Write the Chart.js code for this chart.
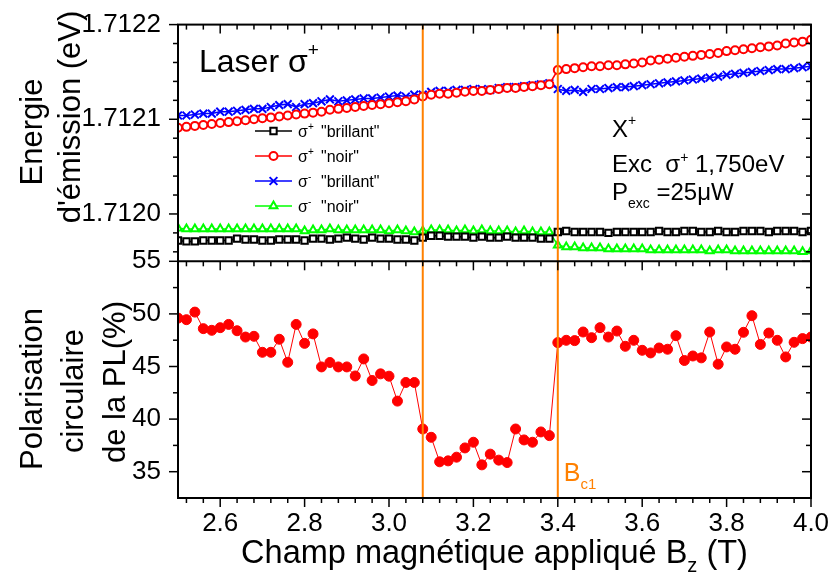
<!DOCTYPE html>
<html lang="fr">
<head>
<meta charset="utf-8">
<title>Energie d'émission et polarisation circulaire</title>
<script src="https://cdn.jsdelivr.net/npm/chart.js@4.4.1/dist/chart.umd.min.js"></script>
<style>
  html, body { margin: 0; padding: 0; background: #fff; }
  #graphique { display: block; }
</style>
</head>
<body>
<canvas id="graphique" width="828" height="579"></canvas>
<script>
const police = '"Liberation Sans", Arial, sans-serif';
const orange = "#FF8000";
Chart.defaults.font.family = police;
Chart.defaults.color = "#000";

// === DONNÉES ===
// Champ magnétique (T)
const champ = [
  2.50, 2.52, 2.54, 2.56, 2.58, 2.60, 2.62, 2.64, 2.66, 2.68,
  2.70, 2.72, 2.74, 2.76, 2.78, 2.80, 2.82, 2.84, 2.86, 2.88,
  2.90, 2.92, 2.94, 2.96, 2.98, 3.00, 3.02, 3.04, 3.06, 3.08,
  3.10, 3.12, 3.14, 3.16, 3.18, 3.20, 3.22, 3.24, 3.26, 3.28,
  3.30, 3.32, 3.34, 3.36, 3.38, 3.40, 3.42, 3.44, 3.46, 3.48,
  3.50, 3.52, 3.54, 3.56, 3.58, 3.60, 3.62, 3.64, 3.66, 3.68,
  3.70, 3.72, 3.74, 3.76, 3.78, 3.80, 3.82, 3.84, 3.86, 3.88,
  3.90, 3.92, 3.94, 3.96, 3.98, 4.00
];

// Energie d'émission (eV)
const plusBrillant = [
  1.711972, 1.711971, 1.711971, 1.711972, 1.711972, 1.711972, 1.711972, 1.711974, 1.711973, 1.711973,
  1.711972, 1.711972, 1.711973, 1.711973, 1.711973, 1.711972, 1.711974, 1.711974, 1.711973, 1.711974,
  1.711975, 1.711974, 1.711973, 1.711975, 1.711974, 1.711974, 1.711973, 1.711973, 1.711972, 1.711975,
  1.711977, 1.711977, 1.711976, 1.711976, 1.711976, 1.711975, 1.711976, 1.711975, 1.711975, 1.711976,
  1.711975, 1.711975, 1.711975, 1.711974, 1.711974, 1.711981, 1.711982, 1.711981, 1.711981, 1.711981,
  1.711981, 1.711980, 1.711981, 1.711981, 1.711981, 1.711981, 1.711981, 1.711982, 1.711981, 1.711981,
  1.711982, 1.711982, 1.711981, 1.711981, 1.711982, 1.711981, 1.711981, 1.711982, 1.711982, 1.711982,
  1.711981, 1.711982, 1.711982, 1.711982, 1.711981, 1.711982
];
const plusNoir = [
  1.712091, 1.712092, 1.712093, 1.712094, 1.712095, 1.712096, 1.712097, 1.712098, 1.712099, 1.712100,
  1.712101, 1.712102, 1.712103, 1.712104, 1.712105, 1.712106, 1.712107, 1.712108, 1.712110, 1.712111,
  1.712112, 1.712113, 1.712114, 1.712115, 1.712116, 1.712117, 1.712118, 1.712119, 1.712121, 1.712124,
  1.712126, 1.712127, 1.712127, 1.712128, 1.712129, 1.712130, 1.712130, 1.712131, 1.712132, 1.712133,
  1.712133, 1.712134, 1.712135, 1.712136, 1.712137, 1.712152, 1.712153, 1.712154, 1.712155, 1.712156,
  1.712156, 1.712157, 1.712157, 1.712158, 1.712159, 1.712160, 1.712162, 1.712163, 1.712164, 1.712165,
  1.712166, 1.712167, 1.712168, 1.712169, 1.712170, 1.712172, 1.712173, 1.712174, 1.712175, 1.712176,
  1.712177, 1.712178, 1.712180, 1.712181, 1.712182, 1.712184
];
const moinsBrillant = [
  1.712104, 1.712104, 1.712105, 1.712106, 1.712106, 1.712108, 1.712108, 1.712109, 1.712110, 1.712111,
  1.712111, 1.712113, 1.712115, 1.712116, 1.712113, 1.712116, 1.712117, 1.712119, 1.712121, 1.712119,
  1.712120, 1.712121, 1.712122, 1.712122, 1.712123, 1.712124, 1.712125, 1.712124, 1.712126, 1.712126,
  1.712129, 1.712130, 1.712130, 1.712131, 1.712131, 1.712132, 1.712132, 1.712131, 1.712133, 1.712134,
  1.712134, 1.712135, 1.712136, 1.712137, 1.712138, 1.712132, 1.712130, 1.712131, 1.712129, 1.712132,
  1.712132, 1.712133, 1.712134, 1.712134, 1.712135, 1.712136, 1.712137, 1.712138, 1.712139, 1.712140,
  1.712141, 1.712142, 1.712143, 1.712144, 1.712145, 1.712147, 1.712148, 1.712149, 1.712150, 1.712151,
  1.712152, 1.712153, 1.712153, 1.712154, 1.712155, 1.712156
];
const moinsNoir = [
  1.711985, 1.711984, 1.711984, 1.711984, 1.711984, 1.711984, 1.711984, 1.711984, 1.711984, 1.711984,
  1.711984, 1.711984, 1.711984, 1.711984, 1.711984, 1.711982, 1.711983, 1.711983, 1.711984, 1.711983,
  1.711983, 1.711983, 1.711983, 1.711983, 1.711983, 1.711982, 1.711983, 1.711982, 1.711981, 1.711982,
  1.711983, 1.711983, 1.711983, 1.711982, 1.711983, 1.711982, 1.711983, 1.711982, 1.711982, 1.711982,
  1.711981, 1.711982, 1.711981, 1.711981, 1.711981, 1.711967, 1.711965, 1.711965, 1.711964, 1.711964,
  1.711964, 1.711963, 1.711963, 1.711963, 1.711963, 1.711963, 1.711962, 1.711962, 1.711962, 1.711962,
  1.711962, 1.711962, 1.711962, 1.711961, 1.711962, 1.711962, 1.711961, 1.711961, 1.711961, 1.711961,
  1.711961, 1.711961, 1.711961, 1.711961, 1.711960, 1.711961
];

// Polarisation circulaire de la PL (%)
const polarisation = [
  49.6, 49.45, 50.17, 48.6, 48.44, 48.69, 49.0, 48.4, 47.8, 47.87,
  46.35, 46.35, 47.59, 45.4, 49.0, 47.2, 48.1, 44.96, 45.38, 44.96,
  44.96, 44.1, 45.72, 43.67, 44.3, 44.08, 41.71, 43.48, 43.48, 39.06,
  38.27, 35.94, 36.03, 36.38, 37.26, 37.8, 35.65, 36.67, 36.1, 35.87,
  39.06, 38.02, 37.8, 38.78, 38.43, 47.27, 47.49, 47.46, 48.28, 47.74,
  48.69, 47.8, 48.37, 46.92, 47.49, 46.54, 46.29, 46.76, 46.64, 47.93,
  45.57, 46.0, 45.82, 48.28, 45.22, 46.86, 46.64, 48.25, 49.83, 47.1,
  48.18, 47.49, 45.91, 47.3, 47.65, 47.8
];

// Champs critiques (lignes verticales)
const lignesBc = [3.08, 3.40];

const points = serie => champ.map((b, i) => ({ x: b, y: serie[i] }));

// === SÉRIES DU PANNEAU DU HAUT ===
const seriesEnergie = [
  { signe: "+", nom: '"brillant"', valeurs: plusBrillant, couleur: "#000000", style: "rect", rayon: 4.5 },
  { signe: "+", nom: '"noir"', valeurs: plusNoir, couleur: "#FF0000", style: "circle", rayon: 4 },
  { signe: "-", nom: '"brillant"', valeurs: moinsBrillant, couleur: "#0000FF", style: "crossRot", rayon: 5.5 },
  { signe: "-", nom: '"noir"', valeurs: moinsNoir, couleur: "#00FF00", style: "triangle", rayon: 4.5 }
];

const datasets = seriesEnergie.map(s => ({
  label: "σ" + s.signe + " " + s.nom,
  data: points(s.valeurs),
  yAxisID: "yE",
  borderColor: s.couleur,
  backgroundColor: "#FFFFFF",
  borderWidth: 1.5,
  pointStyle: s.style,
  pointRadius: s.rayon,
  pointBorderWidth: 2,
  pointBackgroundColor: "#FFFFFF",
  pointBorderColor: s.couleur
}));

datasets.push({
  label: "Polarisation",
  data: points(polarisation),
  yAxisID: "yP",
  borderColor: "#FF0000",
  backgroundColor: "#FF0000",
  borderWidth: 1,
  pointStyle: "circle",
  pointRadius: 5,
  pointBorderWidth: 1,
  pointBackgroundColor: "#FF0000",
  pointBorderColor: "#FF0000"
});

// titres des axes y : une ligne par entrée, centre (x, y) de chaque ligne
const titreEnergie = [
  { t: "Energie", x: 33, y: 132 },
  { t: "d'émission (eV)", x: 71, y: 117 }
];
const titrePolar = [
  { t: "Polarisation", x: 33, y: 389 },
  { t: "circulaire", x: 74, y: 391 },
  { t: "de la PL(%)", x: 116, y: 382 }
];

// === OUTILS DE DESSIN ===
function trait(ctx, x1, y1, x2, y2) {
  ctx.beginPath();
  ctx.moveTo(x1, y1);
  ctx.lineTo(x2, y2);
  ctx.stroke();
}

function ecrire(ctx, morceaux, x, y, couleur) {
  ctx.fillStyle = couleur || "#000";
  ctx.textAlign = "left";
  ctx.textBaseline = "alphabetic";
  morceaux.forEach(m => {
    ctx.font = m.taille + "px " + police;
    if (m.x !== undefined) x = m.x;
    ctx.fillText(m.t, x, y + (m.dy || 0));
    x += ctx.measureText(m.t).width;
  });
}

function largeur(ctx, morceaux) {
  return morceaux.reduce((w, m) => {
    ctx.font = m.taille + "px " + police;
    return w + ctx.measureText(m.t).width;
  }, 0);
}

function ecrireVertical(ctx, lignes, taille) {
  ctx.fillStyle = "#000";
  ctx.font = taille + "px " + police;
  ctx.textAlign = "center";
  ctx.textBaseline = "middle";
  lignes.forEach(l => {
    ctx.save();
    ctx.translate(l.x, l.y);
    ctx.rotate(-Math.PI / 2);
    ctx.fillText(l.t, 0, 0);
    ctx.restore();
  });
}

// cadre, graduations, textes et légende
const decor = {
  id: "decor",
  afterDatasetsDraw(chart) {
    const { ctx, chartArea: ca, scales: { x } } = chart;
    ctx.save();
    ctx.strokeStyle = orange;
    ctx.lineWidth = 2;
    lignesBc.forEach(b => {
      const px = x.getPixelForValue(b);
      trait(ctx, px, ca.top, px, ca.bottom);
    });
    ctx.restore();
  },
  afterDraw(chart) {
    const { ctx, chartArea: ca, scales: { x, yE, yP } } = chart;
    const milieu = yE.bottom;
    ctx.save();
    ctx.strokeStyle = "#000";
    ctx.lineWidth = 2;
    ctx.strokeRect(ca.left, ca.top, ca.right - ca.left, ca.bottom - ca.top);
    trait(ctx, ca.left, milieu, ca.right, milieu);

    // graduations de l'axe x (0.04 T, majeures tous les 0.2 T)
    ctx.lineWidth = 1.5;
    for (let k = 63; k <= 100; k++) {
      const px = x.getPixelForValue(k / 25);
      const l = k % 5 === 0 ? 9 : 5;
      trait(ctx, px, ca.bottom, px, ca.bottom + l);
      trait(ctx, px, ca.top, px, ca.top + l);
      trait(ctx, px, milieu, px, milieu + l);
    }
    // graduations énergie (0.00002 eV)
    for (let k = 85598; k <= 85610; k++) {
      const py = yE.getPixelForValue(k / 50000);
      const l = k % 5 === 0 ? 9 : 5;
      trait(ctx, ca.left - l, py, ca.left, py);
      trait(ctx, ca.right - l, py, ca.right, py);
    }
    // graduations polarisation (2.5 %)
    for (let k = 14; k <= 22; k++) {
      const py = yP.getPixelForValue(k * 2.5);
      const l = k % 2 === 0 ? 9 : 5;
      trait(ctx, ca.left - l, py, ca.left, py);
      trait(ctx, ca.right - l, py, ca.right, py);
    }

    // titres des axes
    ecrireVertical(ctx, titreEnergie, 31);
    ecrireVertical(ctx, titrePolar, 31);
    const titreX = [
      { t: "Champ magnétique appliqué B", taille: 32.5 },
      { t: "z", taille: 20, dy: 9 },
      { t: " (T)", taille: 32.5 }
    ];
    ecrire(ctx, titreX, (ca.left + ca.right) / 2 - largeur(ctx, titreX) / 2, 563);

    // annotations
    ecrire(ctx, [{ t: "Laser σ", taille: 32 }, { t: "+", taille: 19, dy: -16 }], 199, 72);
    ecrire(ctx, [{ t: "X", taille: 24 }, { t: "+", taille: 14, dy: -12 }], 612, 137);
    ecrire(ctx, [{ t: "Exc  σ", taille: 24 }, { t: "+", taille: 14, dy: -10 }, { t: " 1,750eV", taille: 24 }], 612, 172);
    ecrire(ctx, [{ t: "P", taille: 24 }, { t: "exc", taille: 14, dy: 8 }, { t: " =25μW", taille: 24 }], 612, 200);
    const pxBc = x.getPixelForValue(lignesBc[1]);
    ecrire(ctx, [{ t: "B", taille: 25 }, { t: "c1", taille: 15, dy: 8 }], pxBc + 6, 481, orange);

    // légende
    seriesEnergie.forEach((s, i) => {
      const cy = 131 + i * 25;
      ctx.strokeStyle = s.couleur;
      ctx.lineWidth = 1.5;
      trait(ctx, 255, cy, 292, cy);
      ctx.fillStyle = "#FFFFFF";
      ctx.lineWidth = 2;
      Chart.helpers.drawPoint(ctx, { pointStyle: s.style, rotation: 0, radius: s.rayon, borderWidth: 2 }, 273.5, cy);
      ecrire(ctx, [
        { t: "σ", taille: 16 },
        { t: s.signe, taille: 10, dy: -7 },
        { t: s.nom, taille: 16, x: 321 }
      ], 298, cy + 6);
    });
    ctx.restore();
  }
};

new Chart(document.getElementById("graphique"), {
  type: "line",
  data: { datasets },
  options: {
    responsive: false,
    animation: false,
    layout: { padding: { top: 22, right: 17, left: 0, bottom: 0 } },
    plugins: { legend: { display: false }, tooltip: { enabled: false } },
    scales: {
      x: {
        type: "linear",
        min: 2.5,
        max: 4.0,
        grid: { display: false },
        border: { display: false },
        ticks: { stepSize: 0.2, includeBounds: false, autoSkip: false, padding: 2, font: { size: 26 }, callback: v => v.toFixed(1) },
        afterFit: s => { s.height = 81; s.paddingLeft = 0; s.paddingRight = 0; }
      },
      yP: {
        type: "linear",
        position: "left",
        stack: "panneaux",
        stackWeight: 1,
        min: 32.5,
        max: 55,
        grid: { display: false },
        border: { display: false },
        ticks: { stepSize: 5, includeBounds: false, padding: 9, font: { size: 26 } },
        afterFit: s => { s.width = 178; }
      },
      yE: {
        type: "linear",
        position: "left",
        stack: "panneaux",
        stackWeight: 1,
        min: 1.71195,
        max: 1.7122,
        grid: { display: false },
        border: { display: false },
        ticks: { stepSize: 0.0001, includeBounds: false, padding: 9, font: { size: 26 }, callback: v => v.toFixed(4) },
        afterFit: s => { s.width = 178; }
      }
    }
  },
  plugins: [decor]
});
</script>
</body>
</html>
